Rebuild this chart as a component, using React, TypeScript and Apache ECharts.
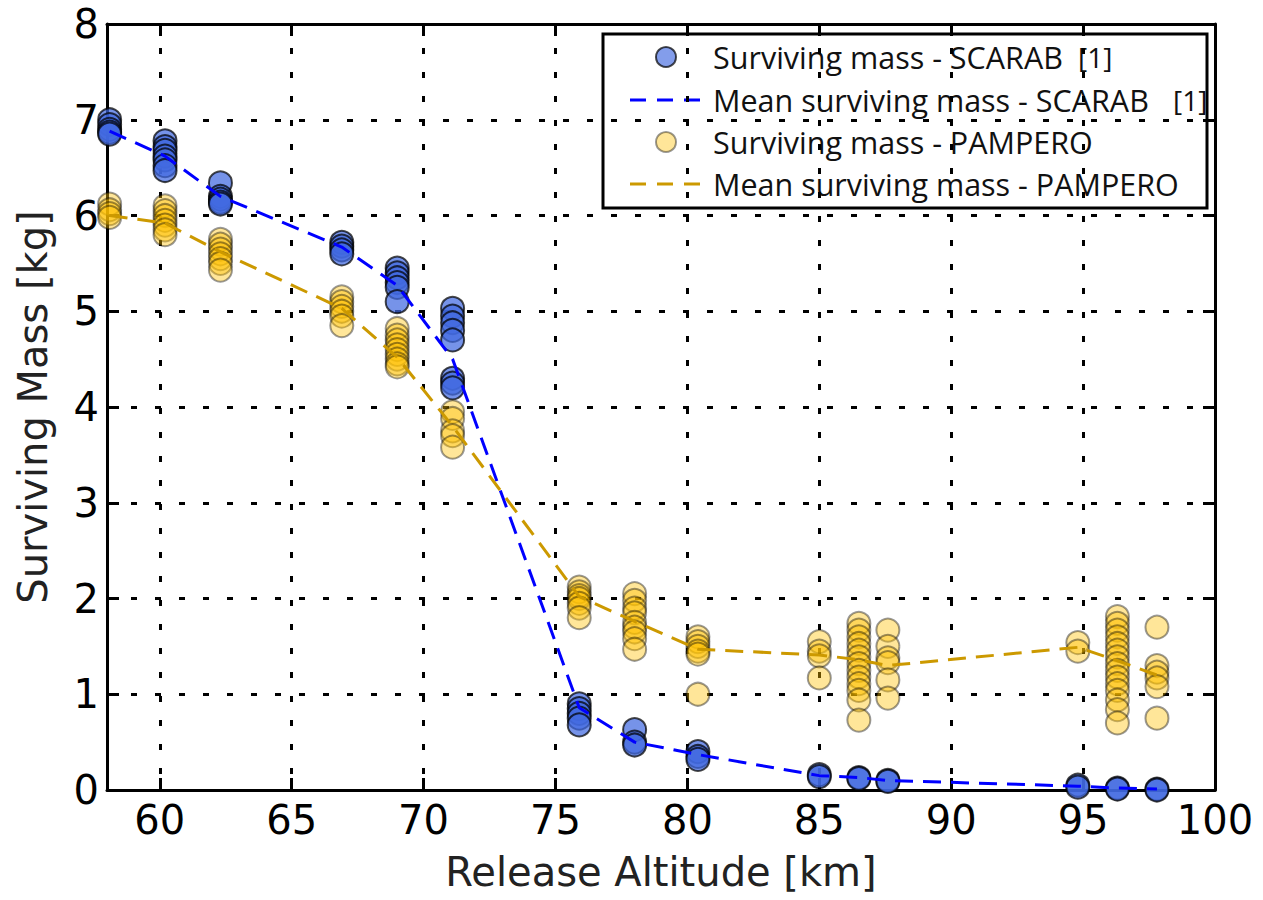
import React, { useEffect, useRef } from 'react';
import * as echarts from 'echarts';

// Release altitudes [km]
const altitudes = [58.1, 60.2, 62.3, 66.9, 69.0, 71.1, 75.9, 78.0, 80.4, 85.0, 86.5, 87.6, 94.8, 96.3, 97.8];

// Mean surviving mass [kg]
const scarabMean = [6.88, 6.62, 6.2, 5.67, 5.27, 4.5, 0.86, 0.5, 0.37, 0.15, 0.13, 0.1, 0.04, 0.02, 0.01];
const pamperoMean = [6.0, 5.92, 5.62, 5.03, 4.52, 3.8, 2.02, 1.76, 1.47, 1.41, 1.36, 1.3, 1.49, 1.35, 1.2];

// Individual runs per altitude [kg]
const scarabRuns = [
  [7.0, 6.95, 6.9, 6.87, 6.85],
  [6.78, 6.72, 6.68, 6.62, 6.58, 6.52, 6.47],
  [6.34, 6.2, 6.17, 6.14, 6.12],
  [5.72, 5.68, 5.64, 5.6],
  [5.45, 5.4, 5.35, 5.3, 5.25, 5.1],
  [5.03, 4.95, 4.88, 4.8, 4.7, 4.3, 4.25, 4.2],
  [0.9, 0.85, 0.8, 0.75, 0.68],
  [0.63, 0.5, 0.47],
  [0.4, 0.35, 0.32],
  [0.16, 0.14],
  [0.13, 0.12],
  [0.1, 0.09],
  [0.05, 0.03],
  [0.02, 0.01],
  [0.01, 0.0],
];
const pamperoRuns = [
  [6.12, 6.06, 6.02, 5.98],
  [6.1, 6.05, 6.0, 5.95, 5.9, 5.85, 5.8],
  [5.75, 5.7, 5.65, 5.6, 5.55, 5.5, 5.43],
  [5.15, 5.1, 5.05, 5.0, 4.95, 4.85],
  [4.82, 4.75, 4.7, 4.65, 4.6, 4.55, 4.5, 4.45, 4.42],
  [3.95, 3.88, 3.75, 3.7, 3.58],
  [2.12, 2.07, 2.03, 2.0, 1.95, 1.9, 1.8],
  [2.05, 1.98, 1.9, 1.85, 1.75, 1.7, 1.65, 1.58, 1.47],
  [1.6, 1.55, 1.5, 1.45, 1.42, 1.0],
  [1.55, 1.45, 1.4, 1.17],
  [1.74, 1.67, 1.6, 1.53, 1.46, 1.39, 1.32, 1.25, 1.18, 1.11, 1.04, 0.94, 0.73],
  [1.67, 1.5, 1.38, 1.33, 1.15, 0.96],
  [1.54, 1.45],
  [1.81, 1.74, 1.67, 1.6, 1.53, 1.46, 1.39, 1.32, 1.25, 1.18, 1.11, 1.04, 0.94, 0.84, 0.7],
  [1.7, 1.3, 1.23, 1.17, 1.08, 0.75],
];

const xTicks = [60, 65, 70, 75, 80, 85, 90, 95, 100];

const legendLabels = [
  'Surviving mass - SCARAB',
  'Mean surviving mass - SCARAB',
  'Surviving mass - PAMPERO',
  'Mean surviving mass - PAMPERO',
];

const BLUE = '#4169E1';
const GOLD = '#FFC000';
const BLUE_LINE = '#0000FF';
const GOLD_LINE = '#CC9900';
const TICK_FONT = 'DejaVu Sans';

export default function App() {
  const ref = useRef<HTMLDivElement>(null);
  useEffect(() => {
    document.body.style.margin = '0';
    const chart = echarts.init(ref.current!, null, { renderer: 'svg' });

    const scarabPts = altitudes.flatMap((a, i) => scarabRuns[i].map((v) => [a, v]));
    const pamperoPts = altitudes.flatMap((a, i) => pamperoRuns[i].map((v) => [a, v]));

    const axisLine = { show: true, onZero: false, lineStyle: { color: '#000', width: 3 } };
    const tickStyle = { inside: true, length: 12, lineStyle: { color: '#000', width: 3 } };
    const gridStyle = { show: true, lineStyle: { color: '#000', width: 3, type: [6, 18] as any } };

    const legendX = 603;
    const legendY = 34;
    const rowY = [57, 100, 142, 184];

    const option: any = {
      animation: false,
      backgroundColor: '#fff',
      grid: { left: 107, right: 48, top: 24, bottom: 110, containLabel: false },
      xAxis: [
        {
          type: 'value',
          min: 58,
          max: 100,
          position: 'bottom',
          axisLine,
          axisTick: { ...tickStyle, customValues: xTicks },
          axisLabel: {
            customValues: xTicks,
            fontSize: 40,
            fontFamily: TICK_FONT,
            color: '#000',
            margin: 10,
          },
          splitLine: gridStyle,
          name: 'Release Altitude [km]',
          nameLocation: 'middle',
          nameGap: 62,
          nameTextStyle: { fontSize: 40, fontFamily: TICK_FONT, color: '#222' },
        },
        {
          type: 'value',
          min: 58,
          max: 100,
          position: 'top',
          axisLine,
          axisTick: { ...tickStyle, customValues: xTicks },
          axisLabel: { show: false },
          splitLine: { show: false },
        },
      ],
      yAxis: [
        {
          type: 'value',
          min: 0,
          max: 8,
          interval: 1,
          position: 'left',
          axisLine,
          axisTick: tickStyle,
          axisLabel: { fontSize: 40, fontFamily: TICK_FONT, color: '#000', margin: 8 },
          splitLine: gridStyle,
          name: 'Surviving Mass [kg]',
          nameLocation: 'middle',
          nameGap: 54,
          nameRotate: 90,
          nameTextStyle: { fontSize: 40, fontFamily: TICK_FONT, color: '#222' },
        },
        {
          type: 'value',
          min: 0,
          max: 8,
          interval: 1,
          position: 'right',
          axisLine,
          axisTick: tickStyle,
          axisLabel: { show: false },
          splitLine: { show: false },
        },
      ],
      series: [
        {
          name: legendLabels[0],
          type: 'scatter',
          data: scarabPts,
          symbol: 'circle',
          symbolSize: 23,
          clip: false,
          itemStyle: { color: BLUE, borderColor: '#000', borderWidth: 2, opacity: 0.72 },
        },
        {
          name: legendLabels[1],
          type: 'line',
          data: altitudes.map((a, i) => [a, scarabMean[i]]),
          showSymbol: false,
          symbol: 'none',
          lineStyle: { color: BLUE_LINE, width: 3, type: [18, 10] },
        },
        {
          name: legendLabels[2],
          type: 'scatter',
          data: pamperoPts,
          symbol: 'circle',
          symbolSize: 23,
          clip: false,
          itemStyle: { color: GOLD, borderColor: '#000', borderWidth: 2, opacity: 0.4 },
        },
        {
          name: legendLabels[3],
          type: 'line',
          data: altitudes.map((a, i) => [a, pamperoMean[i]]),
          showSymbol: false,
          symbol: 'none',
          lineStyle: { color: GOLD_LINE, width: 3, type: [18, 10] },
        },
      ],
      graphic: [
        {
          type: 'group',
          z: 100,
          children: [
            {
              type: 'rect',
              shape: { x: legendX, y: legendY, width: 604, height: 174 },
              style: { fill: '#fff', stroke: '#000', lineWidth: 3 },
            },
            {
              type: 'circle',
              shape: { cx: 666, cy: rowY[0], r: 10 },
              style: { fill: 'rgba(65,105,225,0.65)', stroke: 'rgba(0,0,0,0.7)', lineWidth: 2 },
            },
            {
              type: 'line',
              shape: { x1: 630, y1: rowY[1], x2: 700, y2: rowY[1] },
              style: { stroke: BLUE_LINE, lineWidth: 3, lineDash: [16, 11] },
            },
            {
              type: 'circle',
              shape: { cx: 666, cy: rowY[2], r: 10 },
              style: { fill: 'rgba(255,192,0,0.4)', stroke: 'rgba(0,0,0,0.4)', lineWidth: 2 },
            },
            {
              type: 'line',
              shape: { x1: 630, y1: rowY[3], x2: 700, y2: rowY[3] },
              style: { stroke: GOLD_LINE, lineWidth: 3, lineDash: [16, 11] },
            },
            ...legendLabels.map((t, i) => ({
              type: 'text',
              x: 713,
              y: rowY[i],
              style: {
                text: t,
                fill: '#111',
                font: '30.5px "Open Sans"',
                verticalAlign: 'middle',
                align: 'left',
              },
            })),
            {
              type: 'text',
              x: 1078,
              y: rowY[0],
              style: { text: '[1]', fill: '#111', font: '28px "Open Sans"', verticalAlign: 'middle' },
            },
            {
              type: 'text',
              x: 1173,
              y: rowY[1],
              style: { text: '[1]', fill: '#111', font: '28px "Open Sans"', verticalAlign: 'middle' },
            },
          ],
        },
      ],
    };

    chart.setOption(option);
    return () => chart.dispose();
  }, []);
  return <div ref={ref} style={{ width: 1263, height: 900 }} />;
}
